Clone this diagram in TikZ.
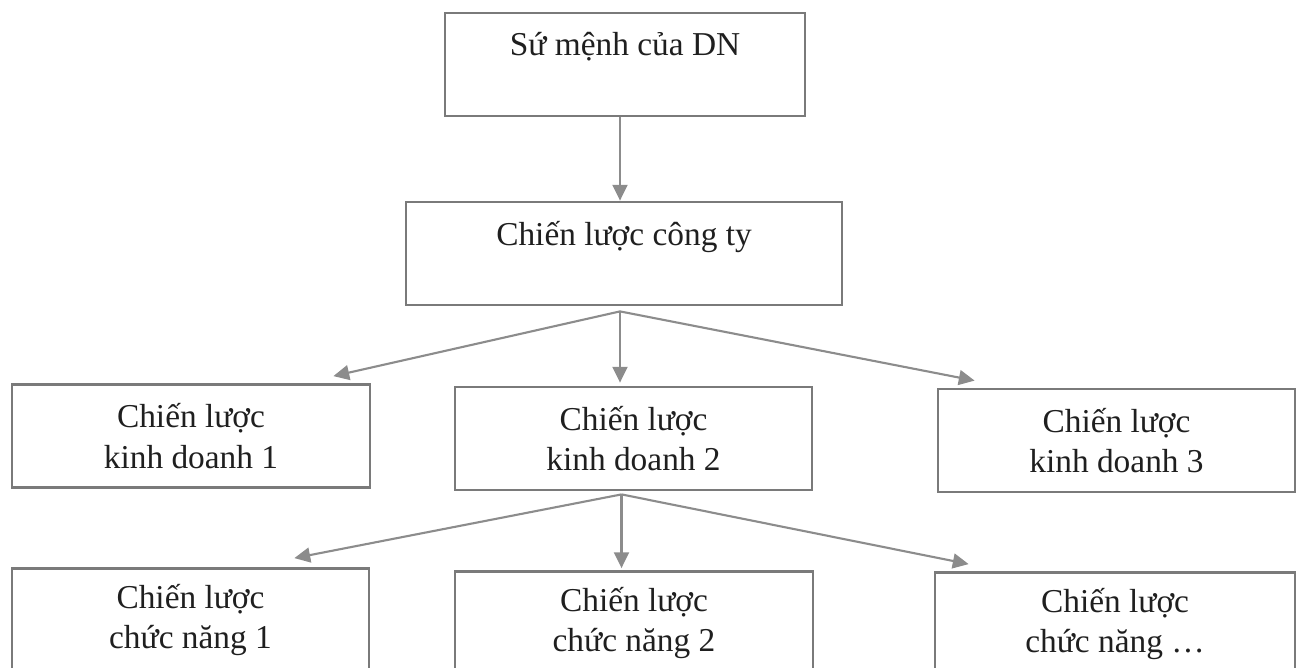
\documentclass[tikz,border=0pt]{standalone}
\usepackage{fontspec}
\setmainfont{Liberation Serif}
\usetikzlibrary{arrows.meta,calc}
\begin{document}
\begin{tikzpicture}[x=0.02cm,y=-0.02cm,
		box/.style={draw=black!52,line width=1.6pt,rectangle,align=center,text=black!88,
			minimum width=7.14cm,minimum height=2.06cm,inner sep=0pt,
			font=\fontsize{19}{23}\selectfont},
		arr/.style={draw=black!45,line width=1.2pt,-{Triangle[length=9pt,width=8.5pt]}}]
				\useasboundingbox (0,0) rectangle (1299,667);
				
				\node[box,minimum width=7.2cm] (mission) at (625,64.5) {Sứ mệnh của DN\\\mbox{}};
				\node[box,minimum width=8.72cm] (corp) at (624,253.5) {Chiến lược công ty\\\mbox{}};
				
				\node[box,minimum width=7.16cm] (kd1) at (191,436) {Chiến lược\\kinh doanh 1};
				\node[box] (kd2) at (633.5,438.5) {Chiến lược\\kinh doanh 2};
				\node[box] (kd3) at (1116.5,440.5) {Chiến lược\\kinh doanh 3};
				
				\node[box] (cn1) at (190.5,620) {Chiến lược\\chức năng 1};
				\node[box,minimum width=7.16cm] (cn2) at (634,623) {Chiến lược\\chức năng 2};
				\node[box,minimum width=7.2cm] (cn3) at (1115,624) {Chiến lược\\chức năng \dots};
				
				\coordinate (corp-fan) at ($(corp.south)+(-4,5)$);
				\coordinate (kd2-fan) at ($(kd2.south)+(-12,3)$);
				
				\draw[arr] (mission.south -| corp-fan) -- (corp.north -| corp-fan);
				
				\draw[arr] (corp-fan) -- ($(kd1.north east)+(-38,-7)$);
				\draw[arr] (corp-fan) -- ($(corp-fan |- kd2.north)+(0,-3)$);
				\draw[arr] (corp-fan) -- ($(kd3.north west)+(38,-7)$);
				
				\draw[arr] (kd2-fan) -- ($(cn1.north east)+(-76,-9)$);
				\draw[arr] (kd2-fan) -- ($(kd2-fan |- cn2.north)+(0,-2)$);
				\draw[arr] (kd2-fan) -- ($(cn3.north west)+(35,-7)$);
			\end{tikzpicture}
\end{document}
